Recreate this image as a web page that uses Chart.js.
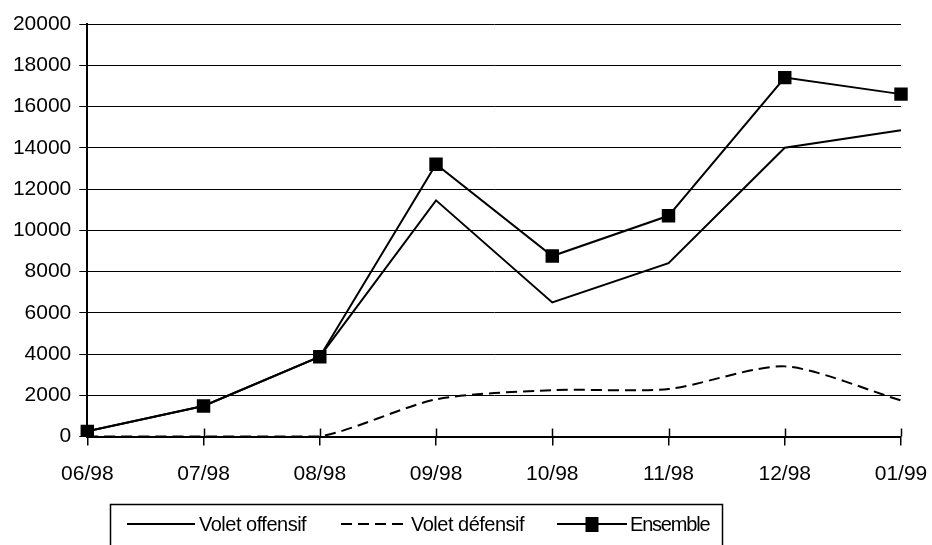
<!DOCTYPE html>
<html>
<head>
<meta charset="utf-8">
<script src="https://cdn.jsdelivr.net/npm/chart.js@4/dist/chart.umd.min.js"></script>
<style>
  html, body { margin: 0; padding: 0; background: #fff; }
  #wrap { width: 932px; height: 545px; }
</style>
</head>
<body>
<div id="wrap"><canvas id="chart" width="932" height="545"></canvas></div>
<script>
// Données
const mois = ['06/98', '07/98', '08/98', '09/98', '10/98', '11/98', '12/98', '01/99'];
const voletOffensif = [250, 1480, 3870, 11450, 6500, 8400, 14000, 14850];
const voletDefensif = [0, 0, 0, 1800, 2250, 2300, 3400, 1750];
const ensemble = [250, 1480, 3870, 13200, 8750, 10700, 17400, 16600];
const yTicks = [0, 2000, 4000, 6000, 8000, 10000, 12000, 14000, 16000, 18000, 20000];

const police = '"Liberation Sans", Arial, sans-serif';

// Petites marques de graduation qui traversent l'axe des X
const crossTicks = {
    id: 'crossTicks',
    afterDatasetsDraw(chart) {
        const ctx = chart.ctx;
        const x = chart.scales.x;
        const bottom = chart.chartArea.bottom;
        ctx.save();
        ctx.strokeStyle = '#000';
        ctx.lineWidth = 1.5;
        mois.forEach((m, i) => {
            const px = Math.round(x.getPixelForTick(i)) + 0.5;
            ctx.beginPath();
            ctx.moveTo(px, bottom - 8);
            ctx.lineTo(px, bottom);
            ctx.stroke();
        });
        ctx.restore();
    }
};

// Légende encadrée en bas
const legendeBas = {
    id: 'legendeBas',
    afterDraw(chart) {
        const ctx = chart.ctx;
        ctx.save();
        ctx.strokeStyle = '#000';
        ctx.lineWidth = 1.5;
        ctx.strokeRect(110.5, 504.5, 612, 60);

        const y = 524;
        const items = [
            { ds: 0, x1: 127, x2: 195, tx: 199 },
            { ds: 1, x1: 341, x2: 408, tx: 411 },
            { ds: 2, x1: 557, x2: 627, tx: 630 }
        ];
        items.forEach(it => {
            const ds = chart.data.datasets[it.ds];
            ctx.strokeStyle = '#000';
            ctx.lineWidth = 2;
            ctx.setLineDash(ds.borderDash || []);
            ctx.beginPath();
            ctx.moveTo(it.x1, y);
            ctx.lineTo(it.x2, y);
            ctx.stroke();
            ctx.setLineDash([]);
            if (ds.pointRadius > 0) {
                const c = (it.x1 + it.x2) / 2;
                ctx.fillStyle = '#000';
                ctx.fillRect(c - 6.5, y - 7, 13, 15);
            }
            ctx.fillStyle = '#000';
            ctx.font = '20px ' + police;
            ctx.letterSpacing = ds.label === 'Ensemble' ? '-1.2px' : '-0.5px';
            ctx.textAlign = 'left';
            ctx.textBaseline = 'middle';
            ctx.fillText(ds.label, it.tx, y + 1);
            ctx.letterSpacing = '0px';
        });
        ctx.restore();
    }
};

new Chart(document.getElementById('chart').getContext('2d'), {
    type: 'line',
    data: {
        labels: mois,
        datasets: [
            {
                label: 'Volet offensif',
                data: voletOffensif,
                borderColor: '#000',
                borderWidth: 2,
                pointRadius: 0,
                tension: 0,
                order: 3
            },
            {
                label: 'Volet défensif',
                data: voletDefensif,
                borderColor: '#000',
                borderWidth: 2,
                borderDash: [11, 6],
                pointRadius: 0,
                tension: 0.25,
                order: 2
            },
            {
                label: 'Ensemble',
                data: ensemble,
                borderColor: '#000',
                borderWidth: 2,
                pointStyle: 'rect',
                pointRadius: 9.5,
                pointBackgroundColor: '#000',
                pointBorderColor: '#000',
                pointBorderWidth: 0,
                tension: 0,
                order: 1
            }
        ]
    },
    options: {
        responsive: false,
        animation: false,
        events: [],
        layout: { padding: { top: 24, right: 31, left: 0, bottom: 0 } },
        plugins: {
            legend: { display: false },
            tooltip: { enabled: false }
        },
        scales: {
            x: {
                offset: false,
                grid: {
                    drawOnChartArea: false,
                    drawTicks: true,
                    tickLength: 9,
                    color: '#000',
                    lineWidth: 1.5
                },
                border: { color: '#000', width: 2 },
                ticks: {
                    color: '#000',
                    font: { family: police, size: 21 },
                    padding: 16,
                    maxRotation: 0,
                    autoSkip: false
                },
                afterFit: s => {
                    s.height = 108.5;
                    s.paddingLeft = 0;
                    s.paddingRight = 0;
                }
            },
            y: {
                min: 0,
                max: 20000,
                afterBuildTicks: s => { s.ticks = yTicks.map(v => ({ value: v })); },
                grid: {
                    color: '#000',
                    lineWidth: 1,
                    tickLength: 8
                },
                border: { color: '#000', width: 2 },
                ticks: {
                    color: '#000',
                    font: { family: police, size: 21 },
                    padding: 8,
                    callback: v => String(v)
                },
                afterFit: s => {
                    s.width = 87.3;
                    s.paddingTop = 0;
                    s.paddingBottom = 0;
                }
            }
        }
    },
    plugins: [crossTicks, legendeBas]
});
</script>
</body>
</html>
